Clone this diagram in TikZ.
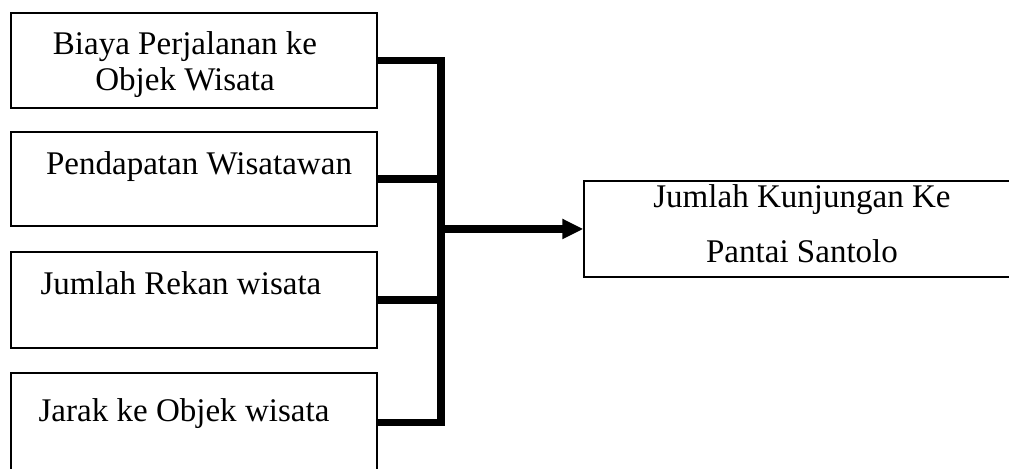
\documentclass[tikz,border=0pt]{standalone}
\usepackage{fontspec}
\setmainfont{Liberation Serif}
\usepackage{tikz}
\usetikzlibrary{arrows.meta}
\usetikzlibrary{positioning,calc}

\begin{document}
\begin{tikzpicture}[transform shape,scale=1,
	box/.style={draw,line width=1pt,minimum width=9.15cm,inner sep=0pt},
	lbl/.style={anchor=base,font=\fontsize{23.5}{25}\selectfont},
	bus/.style={line width=0.19cm}]
	\useasboundingbox (0,0) rectangle (25.225,11.725);
	\clip (0,0) rectangle (25.225,11.725);
	% left boxes
	\node[box,minimum height=2.375cm] (biaya) at (4.85,10.2125) {};
	\node[box,minimum height=2.35cm] (pendapatan) at (4.85,7.25) {};
	\node[box,minimum height=2.4cm] (rekan) at (4.85,4.225) {};
	\node[box,minimum height=2.475cm] (jarak) at (4.85,1.1625) {};
	\node[lbl] (biayaA) at (4.625,10.35) {Biaya Perjalanan ke};
	\node[lbl] (biayaB) at (4.625,9.4625) {Objek Wisata};
	\node[lbl] (pendapatanT) at (4.975,7.35) {Pendapatan Wisatawan};
	\node[lbl] (rekanT) at (4.525,4.35) {Jumlah Rekan wisata};
	\node[lbl] (jarakT) at (4.6,1.175) {Jarak ke Objek wisata};
	% right box
	\node[box,minimum width=10.9cm,minimum height=2.4cm] (kunjungan) at (20.05,6.0) {};
	\node[lbl] (kunjunganA) at (20.05,6.525) {Jumlah Kunjungan Ke};
	\node[lbl] (kunjunganB) at (20.05,5.15) {Pantai Santolo};
	% connectors
	\coordinate (spine) at (11.025,6);
	\draw[bus,line join=miter] (biaya.east) -- (biaya.east -| spine) -- (jarak.east -| spine) -- (jarak.east);
	\draw[bus] (pendapatan.east) -- (pendapatan.east -| spine);
	\draw[bus] (rekan.east) -- (rekan.east -| spine);
	\draw[bus,-{Triangle[length=0.525cm,width=0.475cm]}] ($(spine |- kunjungan.west)+(0.09,0)$) -- (kunjungan.west);
\end{tikzpicture}
\end{document}
